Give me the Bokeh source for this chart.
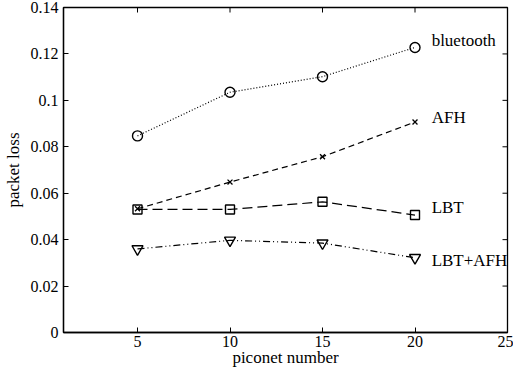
import math
from bokeh.plotting import figure
from bokeh.models import Range1d, FixedTicker
from bokeh.embed import file_html
from bokeh.resources import INLINE
from bokeh.core.properties import value

piconets = [5, 10, 15, 20]
bluetooth = [0.0847, 0.1035, 0.1102, 0.1228]
afh = [0.0533, 0.0648, 0.0757, 0.0907]
lbt = [0.0530, 0.0530, 0.0563, 0.0506]
lbt_afh = [0.0360, 0.0397, 0.0385, 0.0322]

series_names = ["bluetooth", "AFH", "LBT", "LBT+AFH"]
label_x = [20.9, 20.9, 20.9, 20.9]
label_y = [0.1257, 0.0927, 0.0537, 0.0312]

x_ticks = [5, 10, 15, 20, 25]
y_ticks = [0, 0.02, 0.04, 0.06, 0.08, 0.1, 0.12, 0.14]
y_tick_labels = ["0", "0.02", "0.04", "0.06", "0.08", "0.1", "0.12", "0.14"]
x_min, x_max = 1, 25
y_min, y_max = 0, 0.14

FONT = "Liberation Serif"
TICK_FS = "16px"
LABEL_FS = "17px"

p = figure(width=513, height=369, output_backend="svg", toolbar_location=None,
           x_range=Range1d(x_min, x_max), y_range=Range1d(y_min, y_max),
           min_border_left=60, min_border_right=6, min_border_top=7, min_border_bottom=35)
p.xgrid.visible = False
p.ygrid.visible = False
p.outline_line_color = "black"
p.outline_line_width = 1.3
p.background_fill_color = "white"
p.border_fill_color = "white"

def style_axis(ax):
    ax.axis_line_color = "black"
    ax.axis_line_width = 1.3
    ax.major_tick_in = 5
    ax.major_tick_out = 0
    ax.major_tick_line_color = "black"
    ax.minor_tick_line_color = None
    ax.major_label_text_font = FONT
    ax.major_label_text_font_size = TICK_FS
    ax.major_label_text_color = "black"
    ax.axis_label_text_font = FONT
    ax.axis_label_text_font_size = LABEL_FS
    ax.axis_label_text_font_style = "normal"
    ax.axis_label_text_color = "black"

xa = p.xaxis[0]
xa.ticker = FixedTicker(ticks=x_ticks)
xa.axis_label = "piconet number"
xa.major_label_standoff = 3
xa.axis_label_standoff = -2
style_axis(xa)

ya = p.yaxis[0]
ya.ticker = FixedTicker(ticks=y_ticks)
ya.major_label_overrides = {t: s for t, s in zip(y_ticks, y_tick_labels)}
ya.axis_label = "packet loss"
ya.major_label_standoff = 5
ya.axis_label_standoff = 5
style_axis(ya)

# inward tick marks on the top and right edges of the box
p.ray(x=x_ticks, y=[y_max] * len(x_ticks), length=5, length_units="screen",
      angle=-math.pi / 2, line_color="black", line_width=1)
p.ray(x=[x_max] * len(y_ticks), y=y_ticks, length=5, length_units="screen",
      angle=math.pi, line_color="black", line_width=1)

lw = 1.2
p.line(piconets, bluetooth, line_color="black", line_width=lw, line_dash="1 2")
p.scatter(piconets, bluetooth, marker="circle", size=10, line_color="black",
          fill_color=None, line_width=1.4)

p.line(piconets, afh, line_color="black", line_width=lw, line_dash="6 4")
p.scatter(piconets, afh, marker="x", size=7, line_color="black", line_width=1.3)

p.line(piconets, lbt, line_color="black", line_width=lw, line_dash="10 5")
p.scatter(piconets, lbt, marker="square", size=9, line_color="black",
          fill_color=None, line_width=1.4)

p.line(piconets, lbt_afh, line_color="black", line_width=lw, line_dash="7 3 1 3 1 3")
p.scatter(piconets, lbt_afh, marker="inverted_triangle", size=11, line_color="black",
          fill_color=None, line_width=1.4)

p.text(x=label_x, y=label_y, text=series_names, text_font=value(FONT),
       text_font_size=LABEL_FS, text_baseline="middle", text_align="left", text_color="black")

open("out.html", "w").write(file_html(p, INLINE))
